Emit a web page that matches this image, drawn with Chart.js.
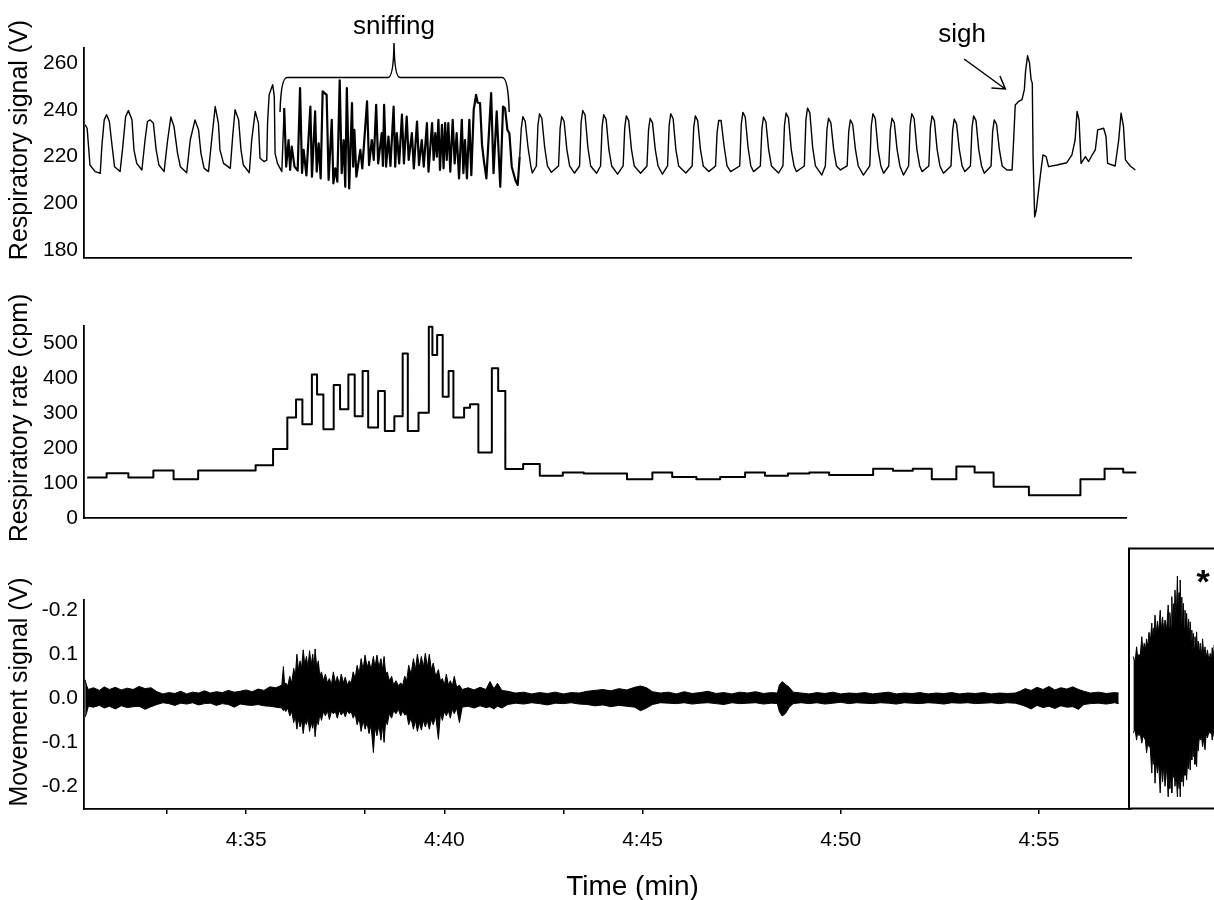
<!DOCTYPE html>
<html>
<head>
<meta charset="utf-8">
<title>Respiration and movement</title>
<script src="https://cdn.jsdelivr.net/npm/chart.js@4.4.1/dist/chart.umd.min.js"></script>
<style>
  html, body { margin: 0; padding: 0; background: #fff; overflow: hidden; }
  #wrap { position: relative; width: 1214px; height: 900px; overflow: hidden; }
  canvas { position: absolute; }
</style>
</head>
<body>
<div id="wrap">
  <canvas id="js--resp" width="1214" height="280" style="left:0;top:0"></canvas>
  <canvas id="js--rate" width="1214" height="260" style="left:0;top:280px"></canvas>
  <canvas id="js--move" width="1214" height="360" style="left:0;top:540px"></canvas>
  <canvas id="js--inset" width="210" height="275" style="left:1128px;top:540px"></canvas>
</div>
<script>
// ---- data (time in seconds, 4:35 = 275 s) ----

// respiratory signal (V)
const respTime = [
  270.94, 270.99, 271.06, 271.19, 271.32, 271.36, 271.42, 271.48,
  271.55, 271.62, 271.68, 271.82, 271.88, 271.96, 272.03, 272.12,
  272.17, 272.24, 272.37, 272.45, 272.51, 272.58, 272.66, 272.73,
  272.80, 272.93, 273.02, 273.10, 273.18, 273.27, 273.34, 273.50,
  273.59, 273.71, 273.80, 273.86, 273.94, 274.05, 274.13, 274.22,
  274.30, 274.34, 274.43, 274.60, 274.66, 274.72, 274.81, 274.87,
  274.93, 275.08, 275.14, 275.23, 275.31, 275.35, 275.45, 275.52,
  275.54, 275.58, 275.67, 275.71, 275.73, 275.79, 275.90,
  // sniffing
  275.96, 276.01, 276.07, 276.11, 276.15, 276.22, 276.30, 276.36,
  276.41, 276.45, 276.52, 276.62, 276.66, 276.74, 276.78, 276.83,
  276.88, 276.93, 277.03, 277.08, 277.16, 277.20, 277.25, 277.30,
  277.36, 277.41, 277.46, 277.50, 277.54, 277.60, 277.67, 277.70,
  277.73, 277.78, 277.88, 277.93, 278.05, 278.10, 278.17, 278.22,
  278.28, 278.33, 278.42, 278.45, 278.48, 278.53, 278.59, 278.64,
  278.72, 278.76, 278.80, 278.86, 278.93, 278.98, 279.05, 279.10,
  279.18, 279.23, 279.31, 279.36, 279.43, 279.48, 279.56, 279.60,
  279.69, 279.73, 279.77, 279.81, 279.85, 279.89, 279.94, 279.98,
  280.02, 280.06, 280.10, 280.15, 280.21, 280.26, 280.31, 280.37,
  280.44, 280.48, 280.52, 280.57, 280.63, 280.68, 280.74, 280.80,
  280.84, 280.90, 280.95, 281.00, 281.06, 281.18, 281.24, 281.32,
  281.41, 281.48, 281.53, 281.59, 281.64, 281.70, 281.79, 281.85,
  // quiet breathing
  281.90, 281.94, 281.98, 282.04, 282.11, 282.18, 282.22,
  282.32, 282.36, 282.40, 282.46, 282.53, 282.60, 282.70,
  282.88, 282.92, 282.96, 283.02, 283.09, 283.16, 283.28,
  283.41, 283.45, 283.49, 283.55, 283.62, 283.69, 283.84,
  283.94, 283.98, 284.02, 284.08, 284.15, 284.22, 284.37,
  284.51, 284.55, 284.59, 284.65, 284.72, 284.79, 284.95,
  285.11, 285.15, 285.19, 285.25, 285.32, 285.39, 285.50,
  285.63, 285.67, 285.71, 285.77, 285.84, 285.91, 286.09,
  286.25, 286.29, 286.33, 286.39, 286.46, 286.53, 286.67,
  286.84, 286.88, 286.92, 286.98, 287.06, 287.13, 287.22,
  287.45, 287.49, 287.53, 287.59, 287.66, 287.73, 287.80,
  287.97, 288.01, 288.05, 288.11, 288.18, 288.25, 288.43,
  288.54, 288.58, 288.62, 288.68, 288.75, 288.82, 288.88,
  289.08, 289.12, 289.16, 289.22, 289.29, 289.36, 289.52,
  289.61, 289.65, 289.69, 289.75, 289.82, 289.89, 289.99,
  290.16, 290.20, 290.24, 290.30, 290.37, 290.44, 290.57,
  290.73, 290.77, 290.81, 290.87, 290.94, 291.01, 291.08,
  291.21, 291.25, 291.29, 291.35, 291.42, 291.49, 291.58,
  291.71, 291.75, 291.79, 291.85, 291.92, 291.99, 292.05,
  292.22, 292.26, 292.30, 292.36, 292.43, 292.50, 292.59,
  292.78, 292.82, 292.86, 292.92, 292.99, 293.06, 293.13,
  293.27, 293.31, 293.35, 293.41, 293.48, 293.55, 293.62,
  293.79, 293.83, 293.87, 293.93, 294.00, 294.07, 294.19,
  // sigh
  294.32, 294.36, 294.40, 294.49, 294.57, 294.63, 294.66, 294.71,
  294.76, 294.80, 294.83, 294.85, 294.89, 294.93, 294.99, 295.05,
  295.10, 295.18, 295.24, 295.45, 295.70, 295.83, 295.91, 295.96,
  296.01, 296.06, 296.17, 296.25, 296.34, 296.42, 296.48, 296.63,
  296.69, 296.73, 296.92, 297.01, 297.07, 297.13, 297.18, 297.30,
  297.43
];
const respValue = [
  233.6, 232.0, 216.4, 213.6, 212.9, 224.3, 235.7, 237.9,
  235.0, 224.3, 215.7, 213.6, 222.9, 237.1, 239.7, 235.7,
  222.9, 217.1, 214.3, 227.1, 235.0, 235.7, 234.3, 222.9,
  216.4, 213.6, 227.1, 236.9, 232.9, 221.4, 215.7, 213.1,
  227.1, 235.7, 231.4, 221.4, 215.0, 213.6, 227.1, 241.4,
  234.3, 222.9, 217.1, 215.0, 228.6, 240.0, 235.7, 222.9,
  216.4, 213.1, 227.1, 239.3, 234.3, 219.3, 217.9, 218.5,
  234.3, 246.4, 250.7, 245.7, 221.4, 217.1, 213.6,
  // sniffing
  240.7, 215.7, 227.1, 214.3, 224.3, 215.7, 214.0, 249.3,
  213.0, 222.9, 212.0, 241.4, 211.4, 239.3, 213.6, 225.7,
  210.7, 247.9, 246.4, 210.0, 235.7, 208.6, 215.0, 209.3,
  252.6, 212.9, 227.1, 207.1, 249.3, 206.4, 242.9, 215.7,
  231.4, 211.4, 222.9, 215.0, 243.6, 216.4, 227.1, 218.6,
  242.1, 217.1, 230.0, 216.0, 242.1, 215.7, 228.6, 216.0,
  241.4, 215.7, 230.0, 217.1, 237.9, 217.1, 237.1, 218.6,
  230.0, 215.0, 235.0, 216.4, 227.1, 215.7, 234.3, 213.6,
  234.3, 218.6, 230.0, 220.0, 235.7, 214.3, 233.6, 215.0,
  234.3, 218.6, 234.3, 213.6, 235.7, 217.1, 230.0, 210.7,
  235.7, 212.9, 227.1, 210.7, 235.7, 212.1, 240.0, 246.4,
  243.0, 242.9, 225.0, 217.9, 210.7, 247.1, 212.9, 239.3,
  207.1, 241.4, 240.7, 231.4, 230.0, 215.7, 210.0, 207.9,
  // quiet breathing
  220.0, 232.0, 237.1, 235.0, 224.0, 216.0, 213.0,
  216.0, 233.3, 238.3, 236.3, 224.0, 216.0, 213.3,
  216.0, 232.1, 237.1, 235.1, 223.0, 216.0, 212.9,
  216.0, 234.7, 239.7, 237.7, 224.0, 216.0, 212.9,
  216.0, 232.9, 237.9, 235.9, 223.0, 216.0, 212.5,
  216.0, 232.4, 237.4, 235.4, 223.0, 216.0, 212.9,
  216.0, 231.4, 236.4, 234.4, 223.0, 216.0, 212.5,
  216.0, 233.3, 238.3, 236.3, 223.0, 216.0, 213.0,
  216.0, 232.4, 237.4, 235.4, 223.0, 216.0, 213.6,
  216.0, 230.4, 235.4, 235.4, 224.0, 216.0, 213.6,
  216.0, 233.9, 238.9, 236.9, 224.0, 216.0, 213.6,
  216.0, 231.9, 236.9, 234.9, 223.0, 216.0, 213.0,
  216.0, 233.6, 238.6, 236.6, 223.0, 216.0, 213.6,
  216.0, 235.7, 240.7, 238.7, 224.0, 216.0, 212.1,
  216.0, 231.4, 236.4, 234.4, 223.0, 216.0, 214.3,
  216.0, 230.7, 235.7, 233.7, 223.0, 216.0, 212.1,
  216.0, 233.3, 238.3, 236.3, 223.0, 216.0, 212.9,
  216.0, 231.4, 236.4, 234.4, 223.0, 216.0, 212.1,
  216.0, 233.3, 238.3, 236.3, 223.0, 216.0, 213.6,
  216.0, 232.4, 237.4, 235.4, 223.0, 216.0, 212.9,
  216.0, 231.0, 236.0, 234.0, 223.0, 216.0, 213.6,
  216.0, 232.4, 237.4, 235.4, 223.0, 216.0, 212.9,
  216.0, 230.7, 235.7, 233.7, 223.0, 216.0, 214.3,
  // sigh
  214.3, 227.1, 242.1, 243.6, 244.3, 248.6, 256.4, 263.1,
  260.0, 252.9, 251.4, 220.0, 194.3, 197.1, 205.7, 214.3,
  220.7, 220.0, 215.7, 216.4, 217.4, 220.7, 227.1, 239.3,
  235.7, 217.1, 220.0, 217.9, 220.7, 222.9, 231.4, 232.1,
  228.6, 217.1, 216.0, 227.1, 238.6, 232.9, 218.6, 216.0,
  214.3
];
const sniffStart = 275.93, sniffEnd = 281.87;

// respiratory rate (cpm): each value holds from its time until the next one
const rateTime = [
  270.99, 271.48, 272.03, 272.66, 273.17, 273.79, 275.24, 275.68,
  276.04, 276.26, 276.42, 276.66, 276.79, 276.95, 277.21, 277.37,
  277.58, 277.74, 277.94, 278.08, 278.33, 278.50, 278.74, 278.95,
  279.08, 279.35, 279.61, 279.70, 279.82, 279.96, 280.11, 280.23,
  280.50, 280.65, 280.86, 281.20, 281.36, 281.54, 281.99, 282.41,
  282.99, 283.52, 284.61, 285.25, 285.75, 286.36, 286.96, 287.59,
  288.09, 288.67, 289.21, 289.71, 290.82, 291.32, 291.82, 292.30,
  292.92, 293.38, 293.86, 294.75, 296.05, 296.66, 297.13, 297.46
];
const rateValue = [
  117, 129, 117, 137, 112, 137, 152, 198,
  288, 340, 269, 411, 354, 255, 381, 312,
  411, 292, 421, 260, 364, 250, 292, 471,
  250, 302, 548, 467, 524, 348, 421, 288,
  316, 326, 188, 429, 364, 141, 155, 122,
  131, 128, 112, 131, 118, 112, 118, 131,
  122, 128, 131, 124, 142, 136, 142, 112,
  148, 131, 90, 66, 112, 142, 131, 131
];

// movement signal (V): upper and lower edge of the trace
const movTime = [
  270.94, 270.97, 271.02, 271.15, 271.30, 271.42, 271.55, 271.70,
  271.85, 272.00, 272.15, 272.30, 272.45, 272.60, 272.75, 272.90,
  273.05, 273.20, 273.35, 273.50, 273.65, 273.80, 273.95, 274.10,
  274.25, 274.40, 274.55, 274.70, 274.85, 275.00, 275.15, 275.30,
  275.45, 275.60, 275.75, 275.90, 275.94, 275.97, 276.00, 276.05,
  276.10, 276.15, 276.20, 276.24, 276.28, 276.32, 276.36, 276.40,
  276.44, 276.48, 276.52, 276.56, 276.60, 276.64, 276.68, 276.71,
  276.74, 276.78, 276.82, 276.86, 276.90, 276.95, 277.00, 277.05,
  277.10, 277.15, 277.20, 277.25, 277.30, 277.35, 277.40, 277.45,
  277.50, 277.55, 277.60, 277.65, 277.70, 277.75, 277.80, 277.85,
  277.90, 277.95, 278.00, 278.05, 278.10, 278.15, 278.21, 278.25,
  278.30, 278.35, 278.40, 278.44, 278.48, 278.52, 278.56, 278.61,
  278.67, 278.72, 278.78, 278.84, 278.90, 278.95, 279.00, 279.05,
  279.10, 279.16, 279.22, 279.27, 279.32, 279.37, 279.42, 279.47,
  279.52, 279.57, 279.62, 279.67, 279.72, 279.78, 279.85, 279.90,
  279.95, 280.00, 280.05, 280.10, 280.15, 280.20, 280.25, 280.31,
  280.38, 280.45, 280.60, 280.75, 280.90, 281.05, 281.15, 281.25,
  281.34, 281.45, 281.60, 281.80, 282.00, 282.20, 282.40, 282.60,
  282.80, 283.00, 283.20, 283.40, 283.60, 283.80, 284.00, 284.20,
  284.40, 284.60, 284.80, 284.95, 285.10, 285.25, 285.45, 285.65,
  285.85, 286.05, 286.25, 286.45, 286.65, 286.85, 287.05, 287.25,
  287.45, 287.65, 287.85, 288.05, 288.25, 288.40, 288.45, 288.52,
  288.60, 288.70, 288.80, 289.00, 289.20, 289.40, 289.60, 289.80,
  290.00, 290.20, 290.40, 290.60, 290.80, 291.00, 291.20, 291.40,
  291.60, 291.80, 292.00, 292.20, 292.40, 292.60, 292.80, 293.00,
  293.20, 293.40, 293.60, 293.80, 294.00, 294.20, 294.40, 294.52,
  294.65, 294.80, 294.95, 295.10, 295.25, 295.40, 295.55, 295.70,
  295.85, 296.00, 296.13, 296.30, 296.50, 296.70, 296.90, 297.01
];
const movHigh = [
  0.042, 0.030, 0.020, 0.024, 0.018, 0.026, 0.020, 0.025,
  0.019, 0.023, 0.020, 0.027, 0.022, 0.024, 0.015, 0.010,
  0.013, 0.011, 0.016, 0.010, 0.014, 0.012, 0.017, 0.012,
  0.015, 0.013, 0.018, 0.014, 0.016, 0.019, 0.015, 0.021,
  0.018, 0.026, 0.024, 0.030, 0.072, 0.030, 0.035, 0.028,
  0.050, 0.035, 0.068, 0.050, 0.100, 0.065, 0.085, 0.070,
  0.110, 0.075, 0.095, 0.070, 0.108, 0.075, 0.100, 0.070,
  0.112, 0.070, 0.085, 0.050, 0.060, 0.040, 0.055, 0.035,
  0.045, 0.030, 0.060, 0.035, 0.050, 0.032, 0.055, 0.035,
  0.048, 0.030, 0.040, 0.035, 0.060, 0.045, 0.075, 0.055,
  0.090, 0.065, 0.098, 0.070, 0.085, 0.065, 0.095, 0.070,
  0.098, 0.070, 0.090, 0.065, 0.095, 0.055, 0.060, 0.040,
  0.050, 0.030, 0.040, 0.028, 0.035, 0.030, 0.050, 0.040,
  0.075, 0.055, 0.090, 0.065, 0.100, 0.070, 0.095, 0.070,
  0.102, 0.070, 0.100, 0.065, 0.080, 0.050, 0.065, 0.040,
  0.045, 0.030, 0.055, 0.030, 0.040, 0.028, 0.050, 0.025,
  0.030, 0.020, 0.024, 0.019, 0.025, 0.020, 0.038, 0.022,
  0.034, 0.018, 0.016, 0.012, 0.014, 0.010, 0.013, 0.011,
  0.014, 0.010, 0.013, 0.012, 0.016, 0.018, 0.020, 0.017,
  0.022, 0.019, 0.025, 0.028, 0.024, 0.015, 0.012, 0.014,
  0.010, 0.015, 0.011, 0.013, 0.016, 0.011, 0.013, 0.010,
  0.014, 0.012, 0.015, 0.011, 0.013, 0.012, 0.030, 0.038,
  0.032, 0.025, 0.014, 0.012, 0.010, 0.013, 0.011, 0.014,
  0.010, 0.012, 0.011, 0.013, 0.010, 0.012, 0.014, 0.010,
  0.012, 0.011, 0.013, 0.010, 0.012, 0.011, 0.013, 0.010,
  0.012, 0.011, 0.013, 0.010, 0.012, 0.011, 0.012, 0.016,
  0.022, 0.018, 0.025, 0.020, 0.027, 0.019, 0.024, 0.021,
  0.026, 0.020, 0.016, 0.012, 0.014, 0.011, 0.013, 0.012
];
const movLow = [
  -0.042, -0.035, -0.018, -0.020, -0.016, -0.022, -0.018, -0.024,
  -0.017, -0.021, -0.019, -0.018, -0.025, -0.019, -0.014, -0.010,
  -0.012, -0.016, -0.011, -0.013, -0.010, -0.015, -0.012, -0.011,
  -0.016, -0.012, -0.014, -0.020, -0.013, -0.015, -0.016, -0.014,
  -0.017, -0.018, -0.020, -0.022, -0.028, -0.025, -0.030, -0.022,
  -0.040, -0.030, -0.055, -0.040, -0.070, -0.045, -0.065, -0.050,
  -0.080, -0.050, -0.060, -0.045, -0.075, -0.055, -0.068, -0.050,
  -0.087, -0.050, -0.060, -0.035, -0.050, -0.030, -0.040, -0.028,
  -0.048, -0.030, -0.035, -0.030, -0.045, -0.028, -0.038, -0.030,
  -0.042, -0.028, -0.035, -0.030, -0.045, -0.035, -0.060, -0.045,
  -0.075, -0.050, -0.070, -0.055, -0.080, -0.060, -0.123, -0.065,
  -0.085, -0.060, -0.095, -0.060, -0.100, -0.050, -0.060, -0.035,
  -0.045, -0.028, -0.035, -0.025, -0.040, -0.028, -0.038, -0.035,
  -0.060, -0.045, -0.070, -0.050, -0.075, -0.055, -0.072, -0.050,
  -0.065, -0.050, -0.070, -0.048, -0.060, -0.040, -0.093, -0.035,
  -0.050, -0.030, -0.040, -0.028, -0.045, -0.025, -0.035, -0.022,
  -0.055, -0.020, -0.018, -0.022, -0.017, -0.021, -0.019, -0.024,
  -0.018, -0.022, -0.014, -0.011, -0.013, -0.010, -0.012, -0.015,
  -0.011, -0.012, -0.010, -0.013, -0.014, -0.017, -0.015, -0.019,
  -0.016, -0.018, -0.020, -0.028, -0.022, -0.014, -0.010, -0.011,
  -0.012, -0.010, -0.013, -0.011, -0.010, -0.012, -0.014, -0.010,
  -0.012, -0.011, -0.010, -0.013, -0.011, -0.012, -0.030, -0.040,
  -0.035, -0.020, -0.012, -0.010, -0.012, -0.010, -0.013, -0.011,
  -0.009, -0.012, -0.010, -0.011, -0.012, -0.010, -0.011, -0.013,
  -0.010, -0.011, -0.012, -0.010, -0.011, -0.013, -0.010, -0.011,
  -0.010, -0.012, -0.011, -0.010, -0.012, -0.010, -0.011, -0.014,
  -0.018, -0.024, -0.016, -0.021, -0.018, -0.023, -0.017, -0.020,
  -0.019, -0.025, -0.014, -0.012, -0.011, -0.013, -0.010, -0.012
];

// inset burst (marked *), same volt scale, own time base
const insetTime = [
  0.11, 0.15, 0.19, 0.22, 0.25, 0.28, 0.32, 0.35,
  0.38, 0.41, 0.44, 0.47, 0.50, 0.53, 0.57, 0.59,
  0.61, 0.63, 0.65, 0.68, 0.71, 0.74, 0.78, 0.81,
  0.84, 0.87, 0.90, 0.94, 0.98, 1.00, 1.02, 1.05,
  1.07, 1.09, 1.11, 1.13, 1.15, 1.18, 1.21, 1.23,
  1.25, 1.27, 1.28, 1.30, 1.32, 1.34, 1.36, 1.38,
  1.40, 1.42, 1.44, 1.47, 1.49, 1.51, 1.53, 1.55,
  1.57, 1.59, 1.61, 1.63, 1.65, 1.67, 1.69, 1.71,
  1.73, 1.76, 1.78, 1.81, 1.84, 1.87, 1.90, 1.93,
  1.96, 2.00, 2.03, 2.06, 2.08, 2.11, 2.13, 2.17,
  2.20
];
const insetHigh = [
  0.095, 0.080, 0.117, 0.090, 0.100, 0.095, 0.140, 0.105,
  0.125, 0.110, 0.135, 0.115, 0.150, 0.125, 0.171, 0.135,
  0.160, 0.140, 0.189, 0.145, 0.175, 0.150, 0.200, 0.155,
  0.185, 0.150, 0.178, 0.155, 0.212, 0.160, 0.195, 0.165,
  0.231, 0.170, 0.215, 0.175, 0.246, 0.180, 0.278, 0.185,
  0.240, 0.180, 0.269, 0.175, 0.230, 0.165, 0.216, 0.160,
  0.200, 0.150, 0.193, 0.140, 0.180, 0.135, 0.174, 0.130,
  0.155, 0.120, 0.148, 0.115, 0.140, 0.110, 0.151, 0.105,
  0.130, 0.100, 0.125, 0.095, 0.135, 0.095, 0.117, 0.090,
  0.110, 0.085, 0.102, 0.085, 0.115, 0.090, 0.121, 0.090,
  0.110
];
const insetLow = [
  -0.079, -0.070, -0.095, -0.075, -0.085, -0.080, -0.102, -0.085,
  -0.090, -0.095, -0.124, -0.100, -0.110, -0.110, -0.170, -0.125,
  -0.150, -0.130, -0.193, -0.140, -0.170, -0.145, -0.215, -0.150,
  -0.190, -0.150, -0.200, -0.155, -0.224, -0.160, -0.205, -0.160,
  -0.215, -0.160, -0.180, -0.165, -0.200, -0.170, -0.224, -0.175,
  -0.205, -0.170, -0.224, -0.165, -0.190, -0.160, -0.200, -0.150,
  -0.175, -0.145, -0.186, -0.135, -0.160, -0.125, -0.163, -0.120,
  -0.140, -0.110, -0.133, -0.110, -0.150, -0.115, -0.155, -0.100,
  -0.120, -0.085, -0.095, -0.085, -0.110, -0.090, -0.117, -0.080,
  -0.090, -0.075, -0.080, -0.075, -0.095, -0.075, -0.087, -0.075,
  -0.085
];

// tick labels
const respTicks = [180, 200, 220, 240, 260];
const rateTicks = [0, 100, 200, 300, 400, 500];
const movTicks = [-0.2, -0.1, 0, 0.1, 0.2];
const movTickLabels = ['-0.2', '-0.1', '0.0', '0.1', '-0.2'];
const timeTicks = [273, 275, 278, 280, 283, 285, 290, 295];
const timeLabelled = [275, 280, 285, 290, 295];

// ---- chart setup ----
const FONT = '"Liberation Sans", Arial, Helvetica, sans-serif';
Chart.defaults.font.family = FONT;
Chart.defaults.color = '#000';
Chart.defaults.animation = false;
Chart.defaults.plugins.legend.display = false;
Chart.defaults.plugins.tooltip.enabled = false;

const X_MIN = 270.91;
const X_MAX = 297.32;
const X_MAX_RATE = 297.20;

function pairs(xs, ys) {
  return xs.map(function(x, i){ return {x: x, y: ys[i]}; });
}

function clock(v) {
  const m = Math.floor(v / 60);
  const s = Math.round(v - m * 60);
  return m + ':' + (s < 10 ? '0' + s : s);
}

function yTitle(text) {
  return {
    id: 'yTitle',
    afterDraw: function(chart) {
      const ctx = chart.ctx;
      ctx.save();
      ctx.font = '25px ' + FONT;
      ctx.fillStyle = '#000';
      ctx.textAlign = 'center';
      ctx.textBaseline = 'alphabetic';
      ctx.translate(27, chart.chartArea.top + 92);
      ctx.rotate(-Math.PI / 2);
      ctx.fillText(text, 0, 0);
      ctx.restore();
    }
  };
}

function yAxis(min, max, tickList, labels) {
  return {
    type: 'linear',
    min: min,
    max: max,
    grid: {display: false, drawTicks: false},
    border: {display: true, color: '#000', width: 1.8},
    ticks: {
      font: {size: 21},
      padding: 6,
      callback: function(value, index) {
        return labels ? labels[index] : String(value);
      }
    },
    afterBuildTicks: function(axis) {
      axis.ticks = tickList.map(function(v){ return {value: v}; });
    },
    afterFit: function(axis) { axis.width = 84; }
  };
}

function plainX(max) {
  return {
    type: 'linear',
    min: X_MIN,
    max: max,
    grid: {display: false, drawTicks: false},
    border: {display: true, color: '#000', width: 1.8},
    ticks: {display: false},
    afterFit: function(axis) { axis.height = 0; }
  };
}

function line(points, width) {
  return {
    data: points,
    borderColor: '#000',
    borderWidth: width,
    borderJoinStyle: 'round',
    pointRadius: 0,
    fill: false,
    clip: false
  };
}

// annotation anchors for the top panel
const sniffFrom = 275.88, sniffTo = 281.61, sniffTip = 278.73;
const sighTextAt = 293.06, sighArrowFrom = 293.11, sighArrowTo = 294.15;

const annotate = {
  id: 'annotate',
  afterDraw: function(chart) {
    const ctx = chart.ctx;
    const xs = chart.scales.x;
    const top = chart.chartArea.top;
    ctx.save();
    ctx.strokeStyle = '#000';
    ctx.fillStyle = '#000';
    ctx.lineWidth = 1.5;

    // brace over the sniffing bout
    const xa = xs.getPixelForValue(sniffFrom);
    const xb = xs.getPixelForValue(sniffTo);
    const xm = xs.getPixelForValue(sniffTip);
    const yb = top + 29.5, ye = top + 64, yt = top - 5;
    ctx.beginPath();
    ctx.moveTo(xa - 1, ye);
    ctx.quadraticCurveTo(xa, yb, xa + 6, yb);
    ctx.lineTo(xm - 6, yb);
    ctx.quadraticCurveTo(xm - 0.5, yb, xm, yt);
    ctx.quadraticCurveTo(xm + 0.5, yb, xm + 6, yb);
    ctx.lineTo(xb - 6, yb);
    ctx.quadraticCurveTo(xb, yb, xb + 1, ye);
    ctx.stroke();

    ctx.font = '26px ' + FONT;
    ctx.textAlign = 'center';
    ctx.textBaseline = 'alphabetic';
    ctx.fillText('sniffing', xm, top - 14);

    // sigh label and arrow
    ctx.fillText('sigh', xs.getPixelForValue(sighTextAt), top - 6);
    const x0 = xs.getPixelForValue(sighArrowFrom), y0 = top + 11;
    const x1 = xs.getPixelForValue(sighArrowTo), y1 = top + 41;
    const ang = Math.atan2(y1 - y0, x1 - x0);
    ctx.beginPath();
    ctx.moveTo(x0, y0);
    ctx.lineTo(x1, y1);
    ctx.moveTo(x1 + 14 * Math.cos(ang + Math.PI - 0.55), y1 + 14 * Math.sin(ang + Math.PI - 0.55));
    ctx.lineTo(x1, y1);
    ctx.lineTo(x1 + 14 * Math.cos(ang + Math.PI + 0.55), y1 + 14 * Math.sin(ang + Math.PI + 0.55));
    ctx.stroke();
    ctx.restore();
  }
};

// top: respiratory signal, drawn heavier through the sniffing bout
const respSet = line(pairs(respTime, respValue), 1.4);
respSet.segment = {
  borderWidth: function(ctx) {
    const x = ctx.p0.parsed.x;
    return (x >= sniffStart && x < sniffEnd) ? 2.2 : 1.4;
  }
};
new Chart(document.getElementById('js--resp'), {
  type: 'line',
  data: {datasets: [respSet]},
  options: {
    responsive: false,
    layout: {padding: {left: 0, right: 83, top: 48, bottom: 22.5}},
    scales: {
      x: plainX(X_MAX),
      y: yAxis(176.9, 266.4, respTicks)
    }
  },
  plugins: [yTitle('Respiratory signal (V)'), annotate]
});

// middle: respiratory rate (stepped)
const rateSet = line(pairs(rateTime, rateValue), 2);
rateSet.stepped = 'before';
new Chart(document.getElementById('js--rate'), {
  type: 'line',
  data: {datasets: [rateSet]},
  options: {
    responsive: false,
    layout: {padding: {left: 0, right: 88, top: 46, bottom: 21.7}},
    scales: {
      x: plainX(X_MAX_RATE),
      y: yAxis(0, 550, rateTicks)
    }
  },
  plugins: [yTitle('Respiratory rate (cpm)')]
});

// bottom: movement signal with time axis
const timeTitle = {
  id: 'timeTitle',
  afterDraw: function(chart) {
    const ctx = chart.ctx;
    const area = chart.chartArea;
    ctx.save();
    ctx.font = '28px ' + FONT;
    ctx.fillStyle = '#000';
    ctx.textAlign = 'center';
    ctx.textBaseline = 'alphabetic';
    ctx.fillText('Time (min)', (area.left + area.right) / 2 + 25, area.bottom + 86);
    ctx.restore();
  }
};

const movUpper = line(pairs(movTime, movHigh), 1);
movUpper.fill = '+1';
movUpper.backgroundColor = '#000';
const movLower = line(pairs(movTime, movLow), 1);

new Chart(document.getElementById('js--move'), {
  type: 'line',
  data: {datasets: [movUpper, movLower]},
  options: {
    responsive: false,
    layout: {padding: {left: 0, right: 83, top: 60, bottom: 0}},
    scales: {
      x: {
        type: 'linear',
        min: X_MIN,
        max: X_MAX,
        grid: {display: true, drawOnChartArea: false, drawTicks: true, tickLength: 5,
               color: '#000', tickColor: '#000', lineWidth: 1.5},
        border: {display: true, color: '#000', width: 1.8},
        ticks: {
          font: {size: 21},
          padding: 14,
          maxRotation: 0,
          autoSkip: false,
          callback: function(value) {
            return timeLabelled.indexOf(value) >= 0 ? clock(value) : '';
          }
        },
        afterBuildTicks: function(axis) {
          axis.ticks = timeTicks.map(function(v){ return {value: v}; });
        },
        afterFit: function(axis) { axis.height = 91; }
      },
      y: yAxis(-0.251, 0.223, movTicks, movTickLabels)
    }
  },
  plugins: [yTitle('Movement signal (V)'), timeTitle]
});

// inset: boxed burst marked with *
const insetBox = {
  id: 'insetBox',
  afterDraw: function(chart) {
    const ctx = chart.ctx;
    const a = chart.chartArea;
    ctx.save();
    ctx.strokeStyle = '#000';
    ctx.lineWidth = 2;
    ctx.strokeRect(a.left, a.top, a.right - a.left, a.bottom - a.top);
    ctx.fillStyle = '#000';
    ctx.font = 'bold 34px ' + FONT;
    ctx.textAlign = 'center';
    ctx.textBaseline = 'alphabetic';
    ctx.fillText('*', a.left + 74, a.top + 44.5);
    ctx.restore();
  }
};

const insUpper = line(pairs(insetTime, insetHigh), 1);
insUpper.fill = '+1';
insUpper.backgroundColor = '#000';
const insLower = line(pairs(insetTime, insetLow), 1);

new Chart(document.getElementById('js--inset'), {
  type: 'line',
  data: {datasets: [insUpper, insLower]},
  options: {
    responsive: false,
    layout: {padding: {left: 1, right: 9, top: 8.5, bottom: 6.5}},
    scales: {
      x: {type: 'linear', display: false, min: 0, max: 5},
      y: {type: 'linear', display: false, min: -0.2505, max: 0.3405}
    }
  },
  plugins: [insetBox]
});
</script>
</body>
</html>
